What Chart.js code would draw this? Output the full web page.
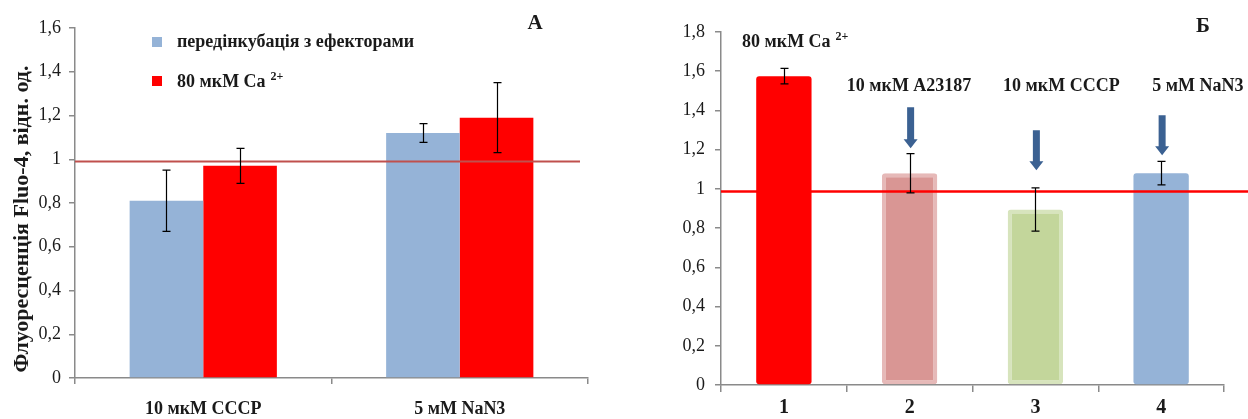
<!DOCTYPE html>
<html><head><meta charset="utf-8">
<script src="https://cdn.jsdelivr.net/npm/chart.js@4.4.0/dist/chart.umd.min.js"></script>
<style>
html,body{margin:0;padding:0;background:#fff;width:1248px;height:419px;overflow:hidden}
#wa{position:absolute;left:0;top:0;width:620px;height:419px}
#wb{position:absolute;left:620px;top:0;width:628px;height:419px}
</style></head><body>
<div id="wa"><canvas id="ca"></canvas></div>
<div id="wb"><canvas id="cb"></canvas></div>
<script>
// ---------- Panel A data ----------
const categoriesA = ['10 мкМ CCCP', '5 мМ NaN3'];
const preincLabel = 'передінкубація з ефекторами';
const preincValues = [0.81, 1.12];
const preincErrors = [0.14, 0.043];
const caLabel = '80 мкМ Ca';
const caLabelSup = '2+';
const caValues = [0.97, 1.19];
const caErrors = [0.08, 0.16];
const refLineA = 0.99;
const yMaxA = 1.6;
const yStepA = 0.2;
const yTitleA = 'Флуоресценція Fluo-4, відн. од.';
const panelA = 'А';
// ---------- Panel B data ----------
const categoriesB = ['1', '2', '3', '4'];
const valuesB = [1.575, 1.08, 0.895, 1.08];
const errorsB = [0.04, 0.10, 0.11, 0.06];
const refLineB = 0.987;
const yMaxB = 1.8;
const yStepB = 0.2;
const annotB = ['80 мкМ Ca', '10 мкМ A23187', '10 мкМ CCCP', '5 мМ NaN3'];
const annotSupB = ['2+', '', '', ''];
const annotXB = [-0.333, 0.5, 1.743, 2.929];
const annotYB = [1.749, 1.525, 1.525, 1.525];
const arrowTopB = [null, 1.416, 1.299, 1.375];
const arrowTipB = [null, 1.207, 1.095, 1.172];
const panelB = 'Б';

const SERIF = "'Liberation Serif','Times New Roman',serif";
const AXIS = '#8a8a8a';
const TXT = '#1a1a1a';
const fmt = v => String(+(+v).toFixed(1)).replace('.', ',');

const errorBars = {
  id: 'errorBars',
  afterDatasetsDraw(chart, args, opts) {
    const ctx = chart.ctx, y = chart.scales.y;
    ctx.save();
    ctx.strokeStyle = '#000';
    ctx.lineWidth = opts.lw || 1.2;
    chart.data.datasets.forEach((ds, i) => {
      if (!ds.errors) return;
      chart.getDatasetMeta(i).data.forEach((bar, j) => {
        const v = ds.data[j], e = ds.errors[j];
        const x = Math.round(bar.x) + 0.5;
        const y1 = y.getPixelForValue(v + e), y2 = y.getPixelForValue(v - e);
        const c = opts.cap || 4;
        ctx.beginPath();
        ctx.moveTo(x, y1); ctx.lineTo(x, y2);
        ctx.moveTo(x - c, y1); ctx.lineTo(x + c, y1);
        ctx.moveTo(x - c, y2); ctx.lineTo(x + c, y2);
        ctx.stroke();
      });
    });
    ctx.restore();
  }
};

const refLine = {
  id: 'refLine',
  afterDatasetsDraw(chart, args, opts) {
    const ctx = chart.ctx, y = chart.scales.y, a = chart.chartArea;
    const py = y.getPixelForValue(opts.value);
    ctx.save();
    ctx.strokeStyle = opts.color;
    ctx.lineWidth = opts.width;
    ctx.beginPath();
    ctx.moveTo(a.left, py);
    ctx.lineTo(opts.toEdge ? chart.width : a.right - opts.inset, py);
    ctx.stroke();
    ctx.restore();
  }
};

function supText(ctx, x, y, main, sup, size) {
  ctx.font = 'bold ' + size + 'px ' + SERIF;
  ctx.textAlign = 'left';
  ctx.textBaseline = 'middle';
  ctx.fillText(main, x, y);
  if (sup) {
    const w = ctx.measureText(main).width;
    ctx.font = 'bold ' + Math.round(size * 0.65) + 'px ' + SERIF;
    ctx.fillText(sup, x + w + 5, y - 5);
  }
}

const decoA = {
  id: 'decoA',
  afterDraw(chart) {
    const ctx = chart.ctx;
    ctx.save();
    ctx.fillStyle = TXT;
    // y title
    ctx.translate(22, 219);
    ctx.rotate(-Math.PI / 2);
    ctx.font = 'bold 22px ' + SERIF;
    ctx.textAlign = 'center';
    ctx.textBaseline = 'middle';
    ctx.fillText(yTitleA, 0, 0);
    ctx.restore();
    ctx.save();
    // legend
    const ds = chart.data.datasets;
    ctx.fillStyle = ds[0].backgroundColor;
    ctx.fillRect(152, 37, 10, 10);
    ctx.fillStyle = ds[1].backgroundColor;
    ctx.fillRect(152, 76, 10, 10);
    ctx.fillStyle = TXT;
    supText(ctx, 177, 42, ds[0].label, '', 18);
    supText(ctx, 177, 82, ds[1].label, caLabelSup, 18);
    ctx.font = 'bold 21px ' + SERIF;
    ctx.textAlign = 'center';
    ctx.fillText(panelA, 535, 24);
    ctx.restore();
  }
};

const decoB = {
  id: 'decoB',
  afterDraw(chart) {
    const ctx = chart.ctx, x = chart.scales.x, y = chart.scales.y;
    const x0 = x.getPixelForValue(0), w = x.getPixelForValue(1) - x0;
    ctx.save();
    ctx.fillStyle = TXT;
    annotB.forEach((t, i) => {
      supText(ctx, x0 + annotXB[i] * w, y.getPixelForValue(annotYB[i]), t, annotSupB[i], 18);
    });
    // arrows
    ctx.fillStyle = '#3B6192';
    const meta = chart.getDatasetMeta(0);
    arrowTopB.forEach((top, i) => {
      if (top == null) return;
      const cx = meta.data[i].x + 1;
      const yt = y.getPixelForValue(top), yb = y.getPixelForValue(arrowTipB[i]);
      const hl = 9, sw = 3.5, hw = 7;
      ctx.beginPath();
      ctx.moveTo(cx - sw, yt); ctx.lineTo(cx + sw, yt);
      ctx.lineTo(cx + sw, yb - hl); ctx.lineTo(cx + hw, yb - hl);
      ctx.lineTo(cx, yb); ctx.lineTo(cx - hw, yb - hl);
      ctx.lineTo(cx - sw, yb - hl); ctx.closePath();
      ctx.fill();
    });
    ctx.fillStyle = TXT;
    ctx.font = 'bold 21px ' + SERIF;
    ctx.textAlign = 'center';
    ctx.textBaseline = 'middle';
    ctx.fillText(panelB, 583, 27);
    ctx.restore();
  }
};

Chart.defaults.animation = false;
Chart.defaults.font.family = SERIF;

function xAxis(size, tl, pad, h) {
  return {
    grid: { display: true, drawOnChartArea: false, drawTicks: true, tickLength: tl, offset: true, color: AXIS, lineWidth: 1.5 },
    border: { display: true, color: AXIS, width: 1.5 },
    ticks: { font: { family: SERIF, size: size, weight: 'bold' }, color: TXT, padding: pad, maxRotation: 0 },
    afterFit(s) { s.height = h; s.paddingLeft = 0; s.paddingRight = 0; }
  };
}
function yAxis(max, step, w, pad) {
  return {
    min: 0, max: max,
    grid: { display: true, drawOnChartArea: false, drawTicks: true, tickLength: 6, color: AXIS, lineWidth: 1.5 },
    border: { display: true, color: AXIS, width: 1.5 },
    ticks: { stepSize: step, callback: v => fmt(v), font: { family: SERIF, size: 18 }, color: TXT, padding: pad },
    afterFit(s) { s.width = w; s.paddingTop = 0; s.paddingBottom = 0; }
  };
}

new Chart(document.getElementById('ca'), {
  type: 'bar',
  data: {
    labels: categoriesA,
    datasets: [
      { label: preincLabel, data: preincValues, errors: preincErrors, backgroundColor: '#95B3D7', borderWidth: 0 },
      { label: caLabel, data: caValues, errors: caErrors, backgroundColor: '#FF0000', borderWidth: 0 }
    ]
  },
  options: {
    responsive: true, maintainAspectRatio: false,
    categoryPercentage: 0.574, barPercentage: 1,
    layout: { padding: { left: 0, right: 32, top: 28, bottom: 0 } },
    plugins: {
      legend: { display: false }, tooltip: { enabled: false },
      refLine: { value: refLineA, color: '#C0504D', width: 2, inset: 8 },
      errorBars: { cap: 4, lw: 1.2 }
    },
    scales: { x: xAxis(18, 6, 15, 41), y: yAxis(yMaxA, yStepA, 75, 8) }
  },
  plugins: [refLine, errorBars, decoA]
});

new Chart(document.getElementById('cb'), {
  type: 'bar',
  data: {
    labels: categoriesB,
    datasets: [{
      data: valuesB, errors: errorsB,
      backgroundColor: ['#FF0000', '#D99694', '#C3D69B', '#95B3D7'],
      borderColor: ['#FF0000', '#E6B9B8', '#D7E4BD', '#95B3D7'],
      borderWidth: [0, 4, 4, 0],
      borderRadius: 3, borderSkipped: false
    }]
  },
  options: {
    responsive: true, maintainAspectRatio: false,
    categoryPercentage: 1, barPercentage: 0.44,
    layout: { padding: { left: 0, right: 24, top: 32, bottom: 0 } },
    plugins: {
      legend: { display: false }, tooltip: { enabled: false },
      refLine: { value: refLineB, color: '#FF0000', width: 2.5, toEdge: true },
      errorBars: { cap: 4, lw: 1.2 }
    },
    scales: { x: xAxis(20, 7, 4, 34), y: yAxis(yMaxB, yStepB, 101, 10) }
  },
  plugins: [refLine, errorBars, decoB]
});
</script>
</body></html>
